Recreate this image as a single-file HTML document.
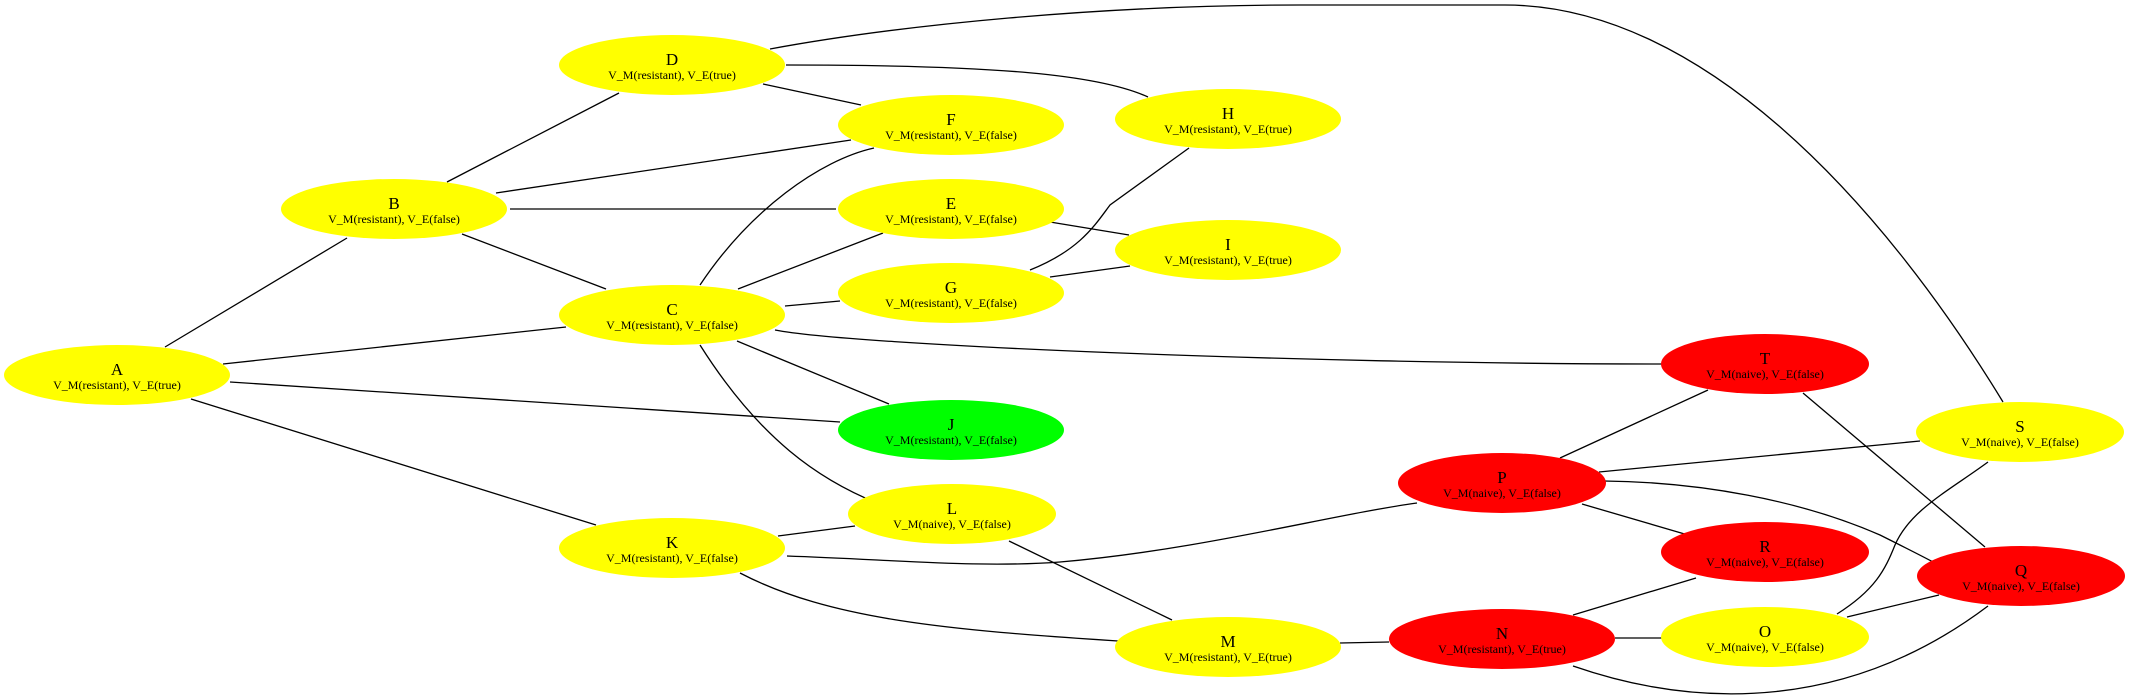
<!DOCTYPE html>
<html><head><meta charset="utf-8"><style>
html,body{margin:0;padding:0;background:#fff;}
svg{display:block;}
text{font-family:"Liberation Serif",serif;fill:#000;text-anchor:middle;}
.t{font-size:17px;}
.s{font-size:12px;}
path,line{stroke:#000;stroke-width:1.3;fill:none;}
</style></head><body>
<svg width="2130" height="697" viewBox="0 0 2130 697" xmlns="http://www.w3.org/2000/svg">
<g>
<line x1="165" y1="347" x2="347" y2="238"/>
<line x1="223" y1="364" x2="566" y2="327"/>
<line x1="230" y1="382" x2="840" y2="422"/>
<line x1="191" y1="399" x2="596" y2="525"/>
<line x1="447" y1="182" x2="619" y2="93"/>
<line x1="496" y1="193" x2="851" y2="140"/>
<line x1="510" y1="209" x2="836" y2="209"/>
<line x1="462" y1="234" x2="606" y2="289"/>
<line x1="763" y1="84" x2="861" y2="105"/>
<path d="M786,65 C1000,65 1100,75 1148,97"/>
<path d="M770,49 C900,25 1100,5 1300,5 L1505,5 C1700,5 1880,200 2003,402"/>
<path d="M700,285 C750,210 820,160 874,148"/>
<line x1="738" y1="289" x2="883" y2="233"/>
<line x1="785" y1="306" x2="840" y2="301"/>
<path d="M775,330 C850,345 1300,364 1662,364"/>
<line x1="737" y1="341" x2="889" y2="404"/>
<path d="M700,345 C760,440 820,480 877,503"/>
<path d="M1030,270 C1080,250 1095,225 1110,205 L1189,148"/>
<line x1="1050" y1="277" x2="1130" y2="266"/>
<line x1="1050" y1="222" x2="1129" y2="235"/>
<line x1="778" y1="536" x2="855" y2="526"/>
<path d="M787,556 C900,560 980,568 1060,562 C1200,550 1330,515 1417,503"/>
<path d="M740,573 C830,620 950,630 1118,641"/>
<line x1="1009" y1="541" x2="1172" y2="620"/>
<line x1="1340" y1="643" x2="1389" y2="642"/>
<line x1="1615" y1="638" x2="1662" y2="638"/>
<line x1="1573" y1="615" x2="1696" y2="578"/>
<path d="M1573,666 C1700,710 1850,710 1988,606"/>
<path d="M1837,614 C1875,590 1885,570 1895,545 C1910,510 1950,490 1988,462"/>
<line x1="1847" y1="617" x2="1939" y2="595"/>
<line x1="1560" y1="458" x2="1708" y2="390"/>
<line x1="1599" y1="472" x2="1920" y2="441"/>
<path d="M1604,481 C1700,482 1800,500 1880,535 C1920,555 1950,570 1971,584"/>
<line x1="1582" y1="504" x2="1688" y2="535"/>
<line x1="1803" y1="393" x2="1985" y2="547"/>
</g>
<g>
<ellipse cx="117" cy="375" rx="113" ry="30" fill="#ffff00"/>
<ellipse cx="394" cy="209" rx="113" ry="30" fill="#ffff00"/>
<ellipse cx="672" cy="65" rx="113" ry="30" fill="#ffff00"/>
<ellipse cx="672" cy="315" rx="113" ry="30" fill="#ffff00"/>
<ellipse cx="672" cy="548" rx="113" ry="30" fill="#ffff00"/>
<ellipse cx="951" cy="125" rx="113" ry="30" fill="#ffff00"/>
<ellipse cx="951" cy="209" rx="113" ry="30" fill="#ffff00"/>
<ellipse cx="951" cy="293" rx="113" ry="30" fill="#ffff00"/>
<ellipse cx="951" cy="430" rx="113" ry="30" fill="#00ff00"/>
<ellipse cx="952" cy="514" rx="104" ry="30" fill="#ffff00"/>
<ellipse cx="1228" cy="119" rx="113" ry="30" fill="#ffff00"/>
<ellipse cx="1228" cy="250" rx="113" ry="30" fill="#ffff00"/>
<ellipse cx="1228" cy="647" rx="113" ry="30" fill="#ffff00"/>
<ellipse cx="1765" cy="364" rx="104" ry="30" fill="#ff0000"/>
<ellipse cx="2020" cy="432" rx="104" ry="30" fill="#ffff00"/>
<ellipse cx="1502" cy="483" rx="104" ry="30" fill="#ff0000"/>
<ellipse cx="1765" cy="552" rx="104" ry="30" fill="#ff0000"/>
<ellipse cx="2021" cy="576" rx="104" ry="30" fill="#ff0000"/>
<ellipse cx="1502" cy="639" rx="113" ry="30" fill="#ff0000"/>
<ellipse cx="1765" cy="637" rx="104" ry="30" fill="#ffff00"/>
</g>
<g>
<text class="t" x="117" y="375">A</text><text class="s" x="117" y="389">V_M(resistant), V_E(true)</text>
<text class="t" x="394" y="209">B</text><text class="s" x="394" y="223">V_M(resistant), V_E(false)</text>
<text class="t" x="672" y="65">D</text><text class="s" x="672" y="79">V_M(resistant), V_E(true)</text>
<text class="t" x="672" y="315">C</text><text class="s" x="672" y="329">V_M(resistant), V_E(false)</text>
<text class="t" x="672" y="548">K</text><text class="s" x="672" y="562">V_M(resistant), V_E(false)</text>
<text class="t" x="951" y="125">F</text><text class="s" x="951" y="139">V_M(resistant), V_E(false)</text>
<text class="t" x="951" y="209">E</text><text class="s" x="951" y="223">V_M(resistant), V_E(false)</text>
<text class="t" x="951" y="293">G</text><text class="s" x="951" y="307">V_M(resistant), V_E(false)</text>
<text class="t" x="951" y="430">J</text><text class="s" x="951" y="444">V_M(resistant), V_E(false)</text>
<text class="t" x="952" y="514">L</text><text class="s" x="952" y="528">V_M(naive), V_E(false)</text>
<text class="t" x="1228" y="119">H</text><text class="s" x="1228" y="133">V_M(resistant), V_E(true)</text>
<text class="t" x="1228" y="250">I</text><text class="s" x="1228" y="264">V_M(resistant), V_E(true)</text>
<text class="t" x="1228" y="647">M</text><text class="s" x="1228" y="661">V_M(resistant), V_E(true)</text>
<text class="t" x="1765" y="364">T</text><text class="s" x="1765" y="378">V_M(naive), V_E(false)</text>
<text class="t" x="2020" y="432">S</text><text class="s" x="2020" y="446">V_M(naive), V_E(false)</text>
<text class="t" x="1502" y="483">P</text><text class="s" x="1502" y="497">V_M(naive), V_E(false)</text>
<text class="t" x="1765" y="552">R</text><text class="s" x="1765" y="566">V_M(naive), V_E(false)</text>
<text class="t" x="2021" y="576">Q</text><text class="s" x="2021" y="590">V_M(naive), V_E(false)</text>
<text class="t" x="1502" y="639">N</text><text class="s" x="1502" y="653">V_M(resistant), V_E(true)</text>
<text class="t" x="1765" y="637">O</text><text class="s" x="1765" y="651">V_M(naive), V_E(false)</text>
</g>
</svg>
</body></html>
